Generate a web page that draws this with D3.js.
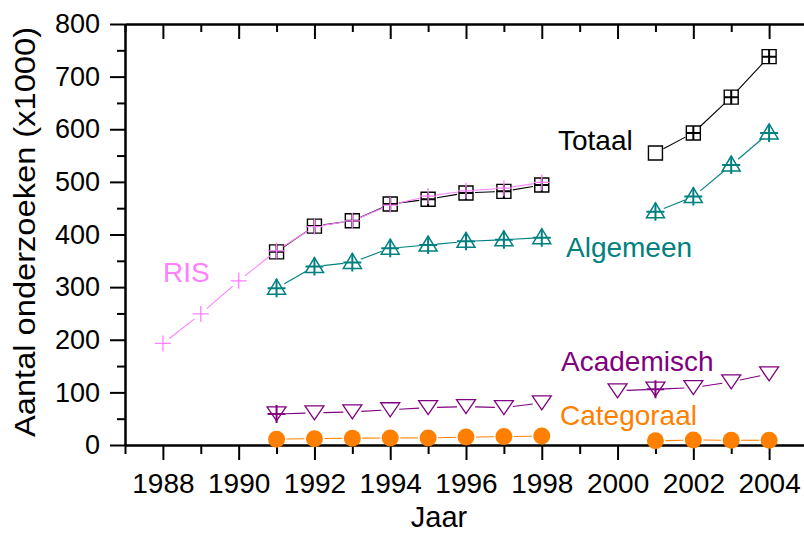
<html>
<head>
    <style>
        body { margin: 0; background-color: #ffffff; }
        text { font-family: "Liberation Sans", Arial, sans-serif; }
    </style>
</head>
<body>
<svg id="chart" width="804" height="536"></svg>
<script src="https://cdn.jsdelivr.net/npm/d3@7"></script>
<script>
    // data (x1000)
    let years      = [1988, 1989, 1990, 1991, 1992, 1993, 1994, 1995, 1996, 1997, 1998, 1999, 2000, 2001, 2002, 2003, 2004]
    let ris        = [193, 249, 312, 369, 415, 426, 456, 473, 483, 488, 499, null, null, null, null, null, null]
    let totaal     = [null, null, null, 367, 416, 426, 458, 467, 479, 482, 494, null, null, 555, 593, 661, 738]
    let totaalPlus = [null, null, null, 367, 416, 426, 458, 467, 479, 482, 494, null, null, null, 593, 661, 738]
    let algemeen   = [null, null, null, 298, 339, 347, 374, 380, 387, 390, 394, null, null, 443, 472, 532, 593]
    let academisch = [null, null, null, 59, 61, 63, 67, 71, 73, 71, 80, null, 103, 106, 109, 120, 135]
    let academischPlus = [null, null, null, 59, null, null, null, null, null, null, null, null, null, 106, null, null, null]
    let categoraal = [null, null, null, 11, 12, 13, 13.5, 13.5, 15, 16, 17, null, null, 8, 9.5, 9, 9]

    let yMajor = [0, 100, 200, 300, 400, 500, 600, 700, 800]
    let yMinor = [50, 150, 250, 350, 450, 550, 650, 750]
    let xMajor = [1988, 1990, 1992, 1994, 1996, 1998, 2000, 2002, 2004]
    let xMinor = [1987, 1989, 1991, 1993, 1995, 1997, 1999, 2001, 2003, 2005]

    let svg = d3.select("#chart")

    let xScale = d3.scaleLinear().domain([1987, 2005]).range([125, 807])
    let yScale = d3.scaleLinear().domain([0, 800]).range([445, 24])

    function pts(vals) {
        return years.map((y, i) => ({x: y, y: vals[i]})).filter(d => d.y != null)
    }

    function segments(vals) {
        let segs = []
        for (let i = 1; i < years.length; i++) {
            if (vals[i - 1] != null && vals[i] != null)
                segs.push([{x: years[i - 1], y: vals[i - 1]}, {x: years[i], y: vals[i]}])
        }
        return segs
    }

    // connecting lines that stop short of the markers
    function drawLines(vals, color, gap) {
        svg.append("g").selectAll("line")
            .data(segments(vals))
            .enter()
            .append("line")
            .each(function(s) {
                let x1 = xScale(s[0].x), y1 = yScale(s[0].y)
                let x2 = xScale(s[1].x), y2 = yScale(s[1].y)
                let len = Math.hypot(x2 - x1, y2 - y1)
                let ux = (x2 - x1) / len, uy = (y2 - y1) / len
                d3.select(this)
                    .attr("x1", x1 + ux * gap).attr("y1", y1 + uy * gap)
                    .attr("x2", x2 - ux * gap).attr("y2", y2 - uy * gap)
            })
            .attr("stroke", color)
            .attr("stroke-width", 1.1)
    }

    function drawMarkers(vals, shape, stroke, fill, width) {
        svg.append("g").selectAll("path")
            .data(pts(vals))
            .enter()
            .append("path")
            .attr("d", shape)
            .attr("transform", d => "translate(" + xScale(d.x) + "," + yScale(d.y) + ")")
            .attr("stroke", stroke)
            .attr("stroke-width", width)
            .attr("fill", fill)
    }

    let square  = "M-7,-7H7V7H-7Z"
    let upTri   = "M0,-9L9,6H-9Z"
    let downTri = "M-9.5,-7H9.5L0,7Z"
    let plus    = r => "M" + (-r) + ",0H" + r + "M0," + (-r) + "V" + r

    // axes
    function styleAxis(g) {
        g.select(".domain").attr("stroke", "#000").attr("stroke-width", 2)
        g.selectAll(".tick line").attr("stroke", "#000").attr("stroke-width", 2)
    }

    svg.append("g")
        .attr("transform", "translate(125,0)")
        .call(d3.axisLeft(yScale).tickValues(yMinor).tickSize(8).tickSizeOuter(0).tickFormat(""))
        .call(styleAxis)

    svg.append("g")
        .attr("transform", "translate(125,0)")
        .call(d3.axisLeft(yScale).tickValues(yMajor).tickSize(15).tickSizeOuter(0).tickPadding(10))
        .call(styleAxis)
        .selectAll("text")
        .attr("font-size", 27)
        .attr("font-family", "Liberation Sans, Arial, sans-serif")
        .attr("fill", "#000")

    svg.append("g")
        .attr("transform", "translate(807,0)")
        .call(d3.axisLeft(yScale).tickValues(yMinor).tickSize(-8).tickSizeOuter(0).tickFormat(""))
        .call(styleAxis)
    svg.append("g")
        .attr("transform", "translate(807,0)")
        .call(d3.axisLeft(yScale).tickValues(yMajor).tickSize(-15).tickSizeOuter(0).tickFormat(""))
        .call(styleAxis)

    svg.append("g")
        .attr("transform", "translate(0,445)")
        .call(d3.axisBottom(xScale).tickValues(xMinor).tickSize(9).tickSizeOuter(0).tickFormat(""))
        .call(styleAxis)

    svg.append("g")
        .attr("transform", "translate(0,445)")
        .call(d3.axisBottom(xScale).tickValues(xMajor).tickSize(15).tickSizeOuter(0).tickPadding(13).tickFormat(d3.format("d")))
        .call(styleAxis)
        .selectAll("text")
        .attr("font-size", 28)
        .attr("font-family", "Liberation Sans, Arial, sans-serif")
        .attr("fill", "#000")

    svg.append("g")
        .attr("transform", "translate(0,24)")
        .call(d3.axisBottom(xScale).tickValues(xMinor).tickSize(8).tickSizeOuter(0).tickFormat(""))
        .call(styleAxis)
    svg.append("g")
        .attr("transform", "translate(0,24)")
        .call(d3.axisBottom(xScale).tickValues(xMajor).tickSize(15).tickSizeOuter(0).tickFormat(""))
        .call(styleAxis)

    // axis titles
    svg.append("text")
        .attr("transform", "rotate(-90)")
        .attr("x", -232)
        .attr("y", 35)
        .attr("text-anchor", "middle")
        .attr("font-size", 30)
        .attr("textLength", 410)
        .attr("lengthAdjust", "spacingAndGlyphs")
        .text("Aantal onderzoeken (x1000)")

    svg.append("text")
        .attr("x", 439)
        .attr("y", 527)
        .attr("text-anchor", "middle")
        .attr("font-size", 29)
        .text("Jaar")

    // series
    let orange = "#ff8000", purple = "#800080", teal = "#008080", pink = "#ff80ff"

    drawLines(categoraal, orange, 10)
    drawMarkers(categoraal, "M-8.5,0A8.5,8.5 0 1,0 8.5,0A8.5,8.5 0 1,0 -8.5,0Z", "none", orange, 0)

    drawLines(academisch, purple, 9)
    drawMarkers(academisch, downTri, purple, "none", 1.3)
    drawMarkers(academischPlus, plus(9), purple, "none", 2)

    drawLines(algemeen, teal, 9)
    drawMarkers(algemeen, upTri, teal, "none", 1.5)
    drawMarkers(algemeen, plus(9), teal, "none", 2)

    drawLines(totaal, "#000", 9)
    drawMarkers(totaal, square, "#000", "none", 1.4)
    drawMarkers(totaalPlus, plus(7), "#000", "none", 2)

    drawLines(ris, pink, 8)
    drawMarkers(ris, plus(8), pink, "none", 1.3)

    // series labels
    let labels = [
        {t: "Totaal", x: 558, y: 150, c: "#000"},
        {t: "Algemeen", x: 566, y: 257, c: teal},
        {t: "RIS", x: 163, y: 282, c: pink},
        {t: "Academisch", x: 561, y: 371, c: purple},
        {t: "Categoraal", x: 560, y: 425, c: orange}
    ]
    svg.append("g").selectAll("text")
        .data(labels)
        .enter()
        .append("text")
        .attr("x", d => d.x)
        .attr("y", d => d.y)
        .attr("font-size", 28)
        .attr("fill", d => d.c)
        .text(d => d.t)
</script>
</body>
</html>
